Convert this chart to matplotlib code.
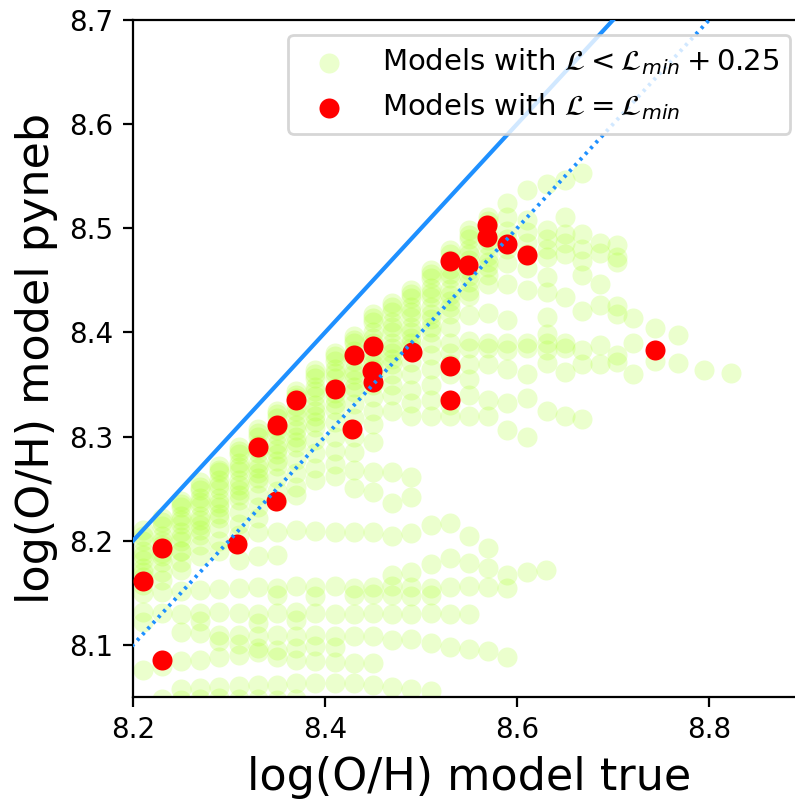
import matplotlib
matplotlib.use("Agg")
import matplotlib.pyplot as plt

# ---------------- data ----------------
# Upper diagonal band + right-hand fan: one x per column, list of y's per column
band_x = [8.21, 8.23, 8.25, 8.27, 8.29, 8.31, 8.33, 8.35, 8.37, 8.39, 8.41, 8.43,
          8.45, 8.47, 8.49, 8.51, 8.53, 8.55, 8.57, 8.59, 8.61, 8.631, 8.65, 8.668,
          8.686, 8.704, 8.721, 8.744, 8.768, 8.795, 8.823]
band_y = [
    [8.21, 8.20, 8.19, 8.182, 8.174, 8.165, 8.158],
    [8.222, 8.214, 8.205, 8.196, 8.188, 8.18, 8.17, 8.162],
    [8.238, 8.232, 8.224, 8.216, 8.208, 8.20, 8.19, 8.18, 8.172],
    [8.256, 8.249, 8.241, 8.233, 8.224, 8.215, 8.206, 8.196, 8.185],
    [8.272, 8.266, 8.258, 8.25, 8.241, 8.232, 8.222, 8.212, 8.20, 8.19],
    [8.29, 8.283, 8.275, 8.267, 8.258, 8.249, 8.239, 8.228, 8.216, 8.206],
    [8.307, 8.30, 8.292, 8.284, 8.275, 8.265, 8.255, 8.244, 8.232, 8.222],
    [8.325, 8.318, 8.31, 8.302, 8.293, 8.283, 8.272, 8.26, 8.248, 8.238],
    [8.344, 8.337, 8.329, 8.32, 8.311, 8.30, 8.29, 8.278, 8.265, 8.252, 8.244],
    [8.364, 8.356, 8.348, 8.339, 8.33, 8.32, 8.309, 8.297, 8.284, 8.27, 8.258],
    [8.38, 8.373, 8.365, 8.356, 8.347, 8.337, 8.326, 8.314, 8.30, 8.286, 8.274, 8.262],
    [8.397, 8.39, 8.382, 8.373, 8.364, 8.354, 8.343, 8.331, 8.318, 8.30, 8.285, 8.268, 8.251],
    [8.418, 8.41, 8.40, 8.39, 8.38, 8.37, 8.36, 8.35, 8.338, 8.325, 8.312, 8.295, 8.266, 8.247],
    [8.428, 8.42, 8.41, 8.40, 8.39, 8.38, 8.37, 8.36, 8.35, 8.34, 8.325, 8.266, 8.236],
    [8.441, 8.433, 8.424, 8.415, 8.405, 8.395, 8.385, 8.372, 8.36, 8.345, 8.332, 8.32, 8.261, 8.242],
    [8.46, 8.452, 8.443, 8.434, 8.424, 8.413, 8.40, 8.39, 8.378, 8.365, 8.35, 8.335, 8.32],
    [8.479, 8.47, 8.461, 8.452, 8.442, 8.43, 8.418, 8.405, 8.39, 8.38, 8.37, 8.36, 8.33, 8.32],
    [8.498, 8.49, 8.48, 8.47, 8.46, 8.448, 8.435, 8.417, 8.392, 8.385, 8.37, 8.355, 8.34, 8.32],
    [8.511, 8.503, 8.494, 8.484, 8.473, 8.463, 8.447, 8.419, 8.39, 8.385, 8.37, 8.335, 8.32],
    [8.524, 8.511, 8.497, 8.49, 8.48, 8.467, 8.447, 8.412, 8.39, 8.383, 8.365, 8.332, 8.306],
    [8.537, 8.508, 8.496, 8.486, 8.475, 8.462, 8.441, 8.39, 8.385, 8.36, 8.337, 8.30],
    [8.543, 8.498, 8.49, 8.48, 8.472, 8.453, 8.439, 8.415, 8.399, 8.39, 8.383, 8.371, 8.325],
    [8.546, 8.511, 8.495, 8.486, 8.475, 8.434, 8.39, 8.385, 8.362, 8.32],
    [8.553, 8.495, 8.48, 8.469, 8.455, 8.421, 8.383, 8.37, 8.317],
    [8.486, 8.476, 8.447, 8.426, 8.388, 8.37],
    [8.484, 8.472, 8.468, 8.425, 8.418, 8.378, 8.372],
    [8.414, 8.39, 8.36],
    [8.404, 8.373],
    [8.398, 8.371],
    [8.364],
    [8.361],
]

# Extra models crowding the upper half of the diagonal band
band2_x = [8.21, 8.23, 8.25, 8.27, 8.29, 8.31, 8.33, 8.35, 8.37, 8.39, 8.41, 8.43,
           8.45, 8.47, 8.49, 8.51, 8.53, 8.55, 8.57]
band2_y = [
    [8.205, 8.186, 8.17],
    [8.218, 8.20, 8.185],
    [8.235, 8.22, 8.204, 8.19],
    [8.252, 8.237, 8.22, 8.21],
    [8.268, 8.254, 8.236, 8.226],
    [8.286, 8.271, 8.254, 8.244],
    [8.303, 8.288, 8.27, 8.26],
    [8.322, 8.306, 8.288, 8.277],
    [8.34, 8.325, 8.306, 8.295],
    [8.36, 8.344, 8.325, 8.314],
    [8.377, 8.361, 8.342, 8.331],
    [8.393, 8.378, 8.36, 8.348],
    [8.414, 8.395, 8.375, 8.365],
    [8.424, 8.405, 8.385, 8.375],
    [8.437, 8.42, 8.40, 8.39],
    [8.456, 8.438, 8.418, 8.405],
    [8.475, 8.456, 8.436, 8.424],
    [8.494, 8.475, 8.454, 8.44],
    [8.507, 8.489, 8.468, 8.455],
]

# Lower, nearly horizontal model tracks
rowA_x = [8.33, 8.35, 8.37, 8.39, 8.41, 8.43, 8.45, 8.47, 8.49, 8.51, 8.53, 8.55, 8.57]
rowA_y = [8.208, 8.208, 8.210, 8.209, 8.208, 8.208, 8.208, 8.205, 8.207, 8.215, 8.217, 8.205, 8.193]
rowA2_x = [8.31, 8.33, 8.35]
rowA2_y = [8.182, 8.185, 8.186]
rowB_x = [8.47, 8.49, 8.51, 8.53, 8.55, 8.57, 8.59, 8.61, 8.63]
rowB_y = [8.167, 8.170, 8.178, 8.183, 8.179, 8.174, 8.167, 8.170, 8.172]
rowC_x = [8.21, 8.23, 8.25, 8.27, 8.29, 8.31, 8.33, 8.35, 8.37, 8.39, 8.41, 8.43,
          8.45, 8.47, 8.49, 8.51, 8.53, 8.55, 8.57, 8.59]
rowC_y = [8.150, 8.151, 8.152, 8.153, 8.154, 8.155, 8.156, 8.155, 8.157, 8.156, 8.157,
          8.155, 8.156, 8.157, 8.156, 8.155, 8.156, 8.157, 8.156, 8.155]
rowC2_x = [8.35, 8.39, 8.43, 8.45, 8.47, 8.49, 8.51]
rowC2_y = [8.148, 8.147, 8.148, 8.149, 8.148, 8.147, 8.148]
rowD_x = [8.21, 8.23, 8.25, 8.27, 8.29, 8.31, 8.33, 8.35, 8.37, 8.39, 8.41, 8.43,
          8.45, 8.47, 8.49, 8.51, 8.53, 8.55]
rowD_y = [8.132, 8.131, 8.130, 8.131, 8.132, 8.131, 8.130, 8.131, 8.132, 8.131, 8.130,
          8.130, 8.131, 8.130, 8.130, 8.131, 8.130, 8.130]
rowD2_x = [8.21, 8.27, 8.33, 8.37]
rowD2_y = [8.122, 8.123, 8.121, 8.124]
rowE_x = [8.25, 8.27, 8.29, 8.31, 8.33, 8.35, 8.37, 8.39, 8.41, 8.43, 8.45, 8.47,
          8.49, 8.51, 8.53, 8.55, 8.57, 8.59]
rowE_y = [8.112, 8.111, 8.110, 8.110, 8.109, 8.110, 8.109, 8.110, 8.109, 8.109, 8.109,
          8.105, 8.106, 8.102, 8.098, 8.096, 8.094, 8.088]
rowE2_x = [8.29, 8.31, 8.33, 8.35, 8.37, 8.39, 8.41]
rowE2_y = [8.104, 8.101, 8.097, 8.095, 8.097, 8.099, 8.098]
rowF_x = [8.21, 8.23, 8.25, 8.27, 8.29, 8.31, 8.33, 8.35, 8.37, 8.39, 8.41, 8.43, 8.45]
rowF_y = [8.076, 8.080, 8.085, 8.086, 8.088, 8.090, 8.093, 8.088, 8.086, 8.085, 8.084,
          8.083, 8.083]
rowG_x = [8.25, 8.27, 8.29, 8.31, 8.33, 8.35, 8.37, 8.39, 8.41, 8.43, 8.45, 8.47, 8.49, 8.51]
rowG_y = [8.058, 8.059, 8.060, 8.061, 8.062, 8.062, 8.063, 8.063, 8.063, 8.063, 8.062,
          8.060, 8.058, 8.056]
rowH_x = [8.23, 8.25, 8.27, 8.29, 8.31, 8.33, 8.35, 8.37]
rowH_y = [8.048, 8.047, 8.048, 8.049, 8.048, 8.048, 8.047, 8.048]

# Best models (L = L_min)
best_x = [8.210, 8.230, 8.230, 8.308, 8.349, 8.330, 8.350, 8.370, 8.410, 8.430,
          8.428, 8.450, 8.449, 8.450, 8.491, 8.530, 8.530, 8.530, 8.549, 8.569,
          8.569, 8.590, 8.610, 8.744]
best_y = [8.161, 8.193, 8.086, 8.197, 8.238, 8.290, 8.311, 8.335, 8.346, 8.378,
          8.307, 8.387, 8.363, 8.352, 8.381, 8.368, 8.335, 8.469, 8.465, 8.503,
          8.492, 8.485, 8.474, 8.383]

label_green = r"Models with $\mathcal{L} < \mathcal{L}_{min} + 0.25$"
label_red = r"Models with $\mathcal{L} = \mathcal{L}_{min}$"
x_ticks = [8.2, 8.4, 8.6, 8.8]
y_ticks = [8.1, 8.2, 8.3, 8.4, 8.5, 8.6, 8.7]

# ---------------- assemble green points ----------------
gx, gy = [], []
for cols_x, cols_y in [(band_x, band_y), (band2_x, band2_y)]:
    for xc, ycol in zip(cols_x, cols_y):
        for yv in ycol:
            gx.append(xc)
            gy.append(yv)
for rx, ry in [(rowA_x, rowA_y), (rowA2_x, rowA2_y), (rowB_x, rowB_y),
               (rowC_x, rowC_y), (rowC2_x, rowC2_y), (rowD_x, rowD_y),
               (rowD2_x, rowD2_y), (rowE_x, rowE_y), (rowE2_x, rowE2_y),
               (rowF_x, rowF_y), (rowG_x, rowG_y), (rowH_x, rowH_y)]:
    gx.extend(rx)
    gy.extend(ry)

# ---------------- plot ----------------
fig = plt.figure(figsize=(3.975, 4.0), dpi=200)
ax = fig.add_axes([0.1673, 0.12875, 0.8453, 0.84625])

ax.scatter(gx, gy, s=52, color="greenyellow", alpha=0.24, linewidths=0,
           label=label_green, zorder=2)
ax.scatter(best_x, best_y, s=52, color="red", linewidths=0,
           label=label_red, zorder=3)

ax.plot([8.1, 9.0], [8.1, 9.0], color="dodgerblue", lw=1.5, zorder=4)
ax.plot([8.1, 9.0], [8.0, 8.9], color="dodgerblue", lw=1.4,
        ls=(0, (0.75, 1.25)), zorder=4)

ax.set_xlim(8.2, 8.9)
ax.set_ylim(8.05, 8.7)
ax.set_xticks(x_ticks)
ax.set_yticks(y_ticks)
ax.tick_params(labelsize=10)
ax.set_xlabel("log(O/H) model true", fontsize=16)
ax.set_ylabel("log(O/H) model pyneb", fontsize=16)
ax.legend(loc="upper right", fontsize=10.5)

fig.savefig("out.png", dpi=200)
